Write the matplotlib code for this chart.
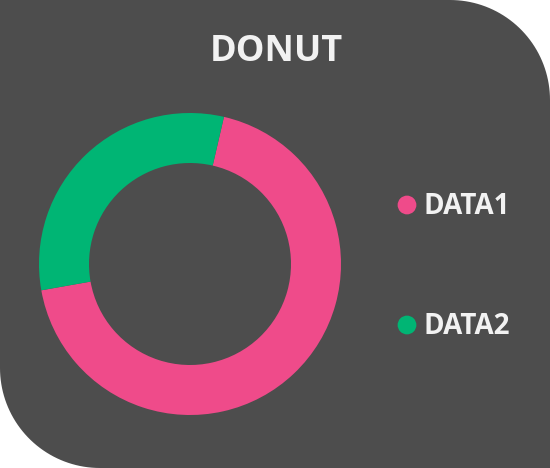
import numpy as np
import matplotlib
matplotlib.use("Agg")
import matplotlib.pyplot as plt
from matplotlib.patches import Polygon

# ---- data ----
title = "DONUT"
labels = ["DATA1", "DATA2"]
values = [68.6, 31.4]
colors = ["#ef4b8a", "#00b574"]

BG = "#4d4d4d"
W, H = 550, 468
fig = plt.figure(figsize=(W / 100, H / 100), dpi=100)
fig.patch.set_facecolor("white")

# background panel in pixel coordinates (y down)
bg = fig.add_axes([0, 0, 1, 1])
bg.set_xlim(0, W)
bg.set_ylim(H, 0)
bg.axis("off")
R = 100
pts = [(0, 0), (W - R, 0)]
t = np.linspace(-np.pi / 2, 0, 40)
pts += list(zip(W - R + R * np.cos(t), R + R * np.sin(t)))
pts += [(W, H)]
t = np.linspace(np.pi / 2, np.pi, 40)
pts += list(zip(R + R * np.cos(t), H - R + R * np.sin(t)))
pts += [(0, 0)]
bg.add_patch(Polygon(pts, closed=True, facecolor=BG, edgecolor="none"))

# title
bg.text(276, 52, title, ha="center", va="center", color="#f2f2f2",
        fontsize=26, fontweight="bold", family="Open Sans")

# legend
leg_y = [205, 325]
for lab, col, y in zip(labels, colors, leg_y):
    bg.scatter([407], [y], s=13.5 ** 2, color=col, edgecolor="none", zorder=3)
    bg.text(423, y + 1, lab, ha="left", va="center", color="#f2f2f2",
            fontsize=20, fontweight="bold", family="Open Sans")

# donut
cx, cy, r = 190, 264, 151
ax = fig.add_axes([(cx - r) / W, (H - cy - r) / H, 2 * r / W, 2 * r / H])
ax.pie(values, colors=colors, startangle=77, counterclock=False, radius=1,
       wedgeprops=dict(width=1 - 101 / 151, edgecolor="none"))
ax.set_xlim(-1, 1)
ax.set_ylim(-1, 1)
ax.set_aspect("equal")
ax.axis("off")

fig.savefig("out.png", dpi=100, facecolor=fig.get_facecolor())
